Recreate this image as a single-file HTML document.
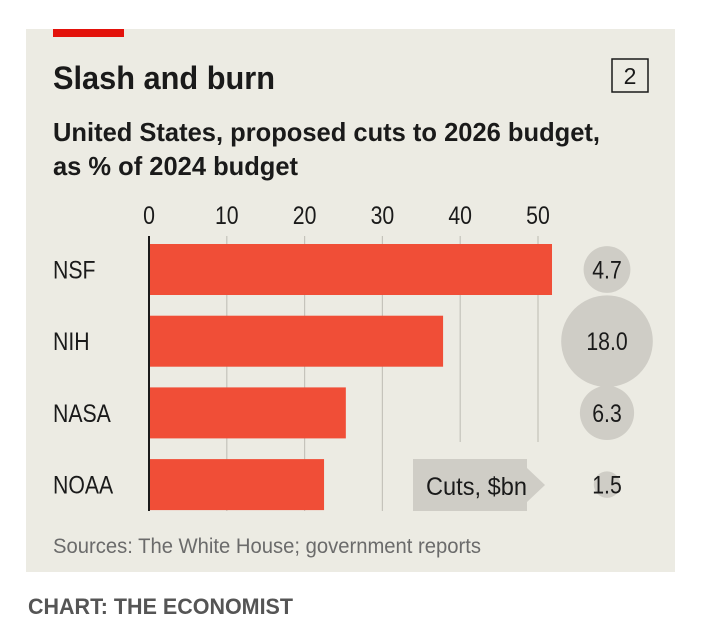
<!DOCTYPE html>
<html><head><meta charset="utf-8"><style>
body{margin:0;background:#fff;width:705px;height:632px;overflow:hidden;font-family:"Liberation Sans",sans-serif}
</style></head><body>
<svg id="c" width="705" height="632" xmlns="http://www.w3.org/2000/svg" font-family="Liberation Sans, sans-serif">
<rect x="26" y="29" width="649" height="543" fill="#ecebe3"/>
<rect x="53" y="29" width="71" height="8" fill="#e3120b"/>
<text x="53" y="89" font-size="32" font-weight="bold" fill="#1a1a1a" textLength="222" lengthAdjust="spacingAndGlyphs">Slash and burn</text>
<rect x="612" y="59" width="36" height="33" fill="none" stroke="#1a1a1a" stroke-width="1.5"/>
<text x="630" y="84" font-size="23" text-anchor="middle" fill="#1a1a1a">2</text>
<text x="53" y="141" font-size="26" font-weight="bold" fill="#1a1a1a" textLength="547" lengthAdjust="spacingAndGlyphs">United States, proposed cuts to 2026 budget,</text>
<text x="53" y="175" font-size="26" font-weight="bold" fill="#1a1a1a" textLength="245" lengthAdjust="spacingAndGlyphs">as % of 2024 budget</text>
<g id="grid"></g>
<g id="bars"></g>
<g id="bubbles"></g>
<g>
<rect x="413" y="459" width="114" height="52" fill="#cfcdc6"/>
<polygon points="527,468 545,485 527,502" fill="#cfcdc6"/>
<text x="426" y="495" font-size="25" fill="#1a1a1a" textLength="101" lengthAdjust="spacingAndGlyphs">Cuts, $bn</text>
</g>
<text x="53" y="553" font-size="21" fill="#6b6b6b" textLength="428" lengthAdjust="spacingAndGlyphs">Sources: The White House; government reports</text>
<text x="28" y="614" font-size="22" font-weight="bold" fill="#555" textLength="265" lengthAdjust="spacingAndGlyphs">CHART: THE ECONOMIST</text>
</svg>
<script>
const categories=["NSF","NIH","NASA","NOAA"];
const pctCuts=[51.8,37.8,25.3,22.5];
const dollarCuts=[4.7,18.0,6.3,1.5];
const dollarLabels=["4.7","18.0","6.3","1.5"];
const ticks=[0,10,20,30,40,50];
const NS="http://www.w3.org/2000/svg";
const x=v=>149+v*7.78;
const rowY=i=>244+i*71.7;
const barH=51;
const r=v=>10.8*Math.sqrt(v);
function mk(t,a,p){const e=document.createElementNS(NS,t);for(const k in a)e.setAttribute(k,a[k]);p.appendChild(e);return e;}
const g=document.getElementById('grid'),b=document.getElementById('bars'),bb=document.getElementById('bubbles');
ticks.forEach(t=>{
 const l=mk('line',{x1:x(t),x2:x(t),y1:236,y2:t>=40?442:511,stroke:t===0?'#1a1a1a':'#c5c3bb','stroke-width':t===0?2:1.2},g);
 
 
 const tx=mk('text',{x:x(t),y:224,'font-size':25,'text-anchor':'middle',fill:'#1a1a1a',transform:'translate('+x(t)+',0) scale(0.85,1) translate('+(-x(t))+',0)'},g);
 tx.textContent=t;
 
 
});
categories.forEach((c,i)=>{
 const y=rowY(i);
 const rc=mk('rect',{x:x(0)+1,y:y,width:x(pctCuts[i])-x(0)-1,height:barH,fill:'#f04e37'},b);
 
 
 const lb=mk('text',{x:53,y:y+barH/2+9,'font-size':25,fill:'#1a1a1a',transform:'translate(53,0) scale(0.85,1) translate(-53,0)'},b);
 lb.textContent=c;
 
 
 const ci=mk('circle',{cx:607,cy:y+barH/2,r:r(dollarCuts[i]),fill:'#cfcdc6'},bb);
 
 
 const bt=mk('text',{x:607,y:y+barH/2+9,'font-size':25,'text-anchor':'middle',fill:'#1a1a1a',transform:'translate(607,0) scale(0.85,1) translate(-607,0)'},bb);
 bt.textContent=dollarLabels[i];
 
 
});
</script>
</body></html>
